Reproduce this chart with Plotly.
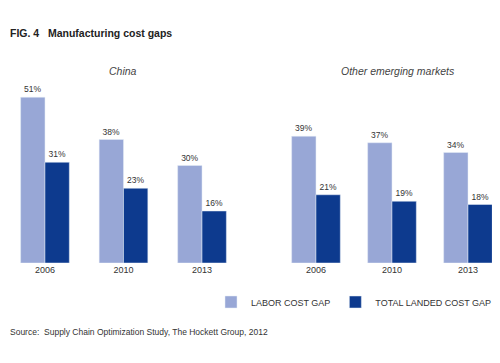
import plotly.graph_objects as go
from plotly.subplots import make_subplots

years = ["2006", "2010", "2013"]
china_labor = [51, 38, 30]
china_landed = [31, 23, 16]
other_labor = [39, 37, 34]
other_landed = [21, 19, 18]
series_names = ["LABOR COST GAP", "TOTAL LANDED COST GAP"]
panel_titles = ["China", "Other emerging markets"]

LIGHT = "#98a7d6"
DARK = "#0d3a8e"
FONT = "Liberation Sans"

# page body has an 8px margin, so the figure is 492x355 and positions are offset by 8px
W, H = 492.0, 355.0
OFF = 8

fig = make_subplots(rows=1, cols=2, horizontal_spacing=0.0)

def add_pair(labor, landed, col, w, show):
    fig.add_trace(go.Bar(x=years, y=labor, name=series_names[0], marker_color=LIGHT,
                         width=w, offset=-w, text=[f"{v}%" for v in labor],
                         textposition="outside", cliponaxis=False,
                         textfont=dict(size=8.5, color="#333", family=FONT),
                         showlegend=show, legendgroup="a"), row=1, col=col)
    fig.add_trace(go.Bar(x=years, y=landed, name=series_names[1], marker_color=DARK,
                         width=w, offset=0, text=[f"{v}%" for v in landed],
                         textposition="outside", cliponaxis=False,
                         textfont=dict(size=8.5, color="#333", family=FONT),
                         showlegend=show, legendgroup="b"), row=1, col=col)

add_pair(china_labor, china_landed, 1, 0.31, True)
add_pair(other_labor, other_landed, 2, 0.32, False)

base_px = 263 - OFF
top_px = 80 - OFF
ybot = (H - base_px) / H
ytop = (H - top_px) / H
yr = [0, (base_px - top_px) / 3.25]

fig.update_xaxes(showgrid=False, zeroline=False, showline=False, ticks="",
                 tickfont=dict(size=9, color="#333", family=FONT))
fig.update_yaxes(showgrid=False, zeroline=False, showline=False,
                 showticklabels=False, range=yr, domain=[ybot, ytop])
fig.update_layout(
    xaxis=dict(domain=[0, 242 / W], range=[-0.471, 2.611]),
    xaxis2=dict(domain=[262 / W, 1.0], range=[-0.605, 2.421]),
)

def py(y):
    return (H - (y - OFF)) / H

def px(x):
    return (x - OFF) / W

fig.add_annotation(text="<b>FIG. 4   Manufacturing cost gaps</b>", xref="paper", yref="paper",
                   x=0, y=py(33), xanchor="left", yanchor="middle", showarrow=False,
                   font=dict(size=10.5, color="#222", family=FONT))
fig.add_annotation(text=f"<i>{panel_titles[0]}</i>", xref="paper", yref="paper",
                   x=px(123), y=py(71), xanchor="center", yanchor="middle", showarrow=False,
                   font=dict(size=10.5, color="#444", family=FONT))
fig.add_annotation(text=f"<i>{panel_titles[1]}</i>", xref="paper", yref="paper",
                   x=px(398), y=py(71), xanchor="center", yanchor="middle", showarrow=False,
                   font=dict(size=10.5, color="#444", family=FONT))
fig.add_annotation(text="Source:  Supply Chain Optimization Study, The Hockett Group, 2012",
                   xref="paper", yref="paper", x=0, y=py(332),
                   xanchor="left", yanchor="middle", showarrow=False,
                   font=dict(size=8.5, color="#333", family=FONT))

fig.update_layout(
    width=W, height=H,
    margin=dict(l=0, r=0, t=0, b=0),
    paper_bgcolor="white", plot_bgcolor="white",
    showlegend=True,
    legend=dict(orientation="h", x=px(497), y=py(302), xanchor="right", yanchor="middle",
                font=dict(size=9, color="#333", family=FONT), itemwidth=30,
                bgcolor="rgba(0,0,0,0)", tracegroupgap=0),
)

fig.write_html("out.html")
